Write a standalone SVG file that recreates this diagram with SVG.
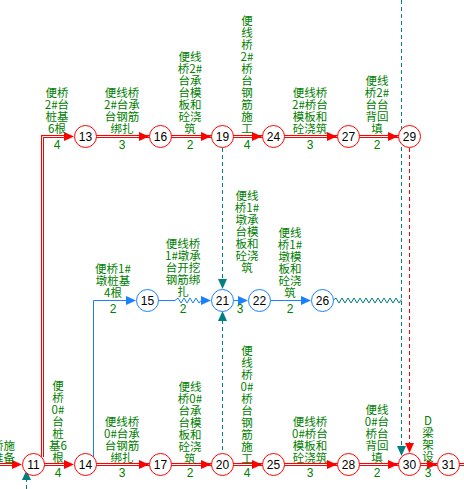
<svg xmlns="http://www.w3.org/2000/svg" xmlns:xlink="http://www.w3.org/1999/xlink" width="464" height="489" viewBox="0 0 464 489">
<style>
.dr{fill:none;stroke:#ff0000;stroke-width:3}
.dw{fill:none;stroke:#ffffff;stroke-width:1}
.bl{fill:none;stroke:#1a80ff;stroke-width:1}
.td{fill:none;stroke:#008080;stroke-width:1;stroke-dasharray:4 3}
.tz{fill:none;stroke:#008080;stroke-width:1}
.rd{fill:none;stroke:#ff0000;stroke-width:1;stroke-dasharray:4 3}
.nr circle{fill:#fff;stroke:#ff0000;stroke-width:1}
.nb circle{fill:#fff;stroke:#1a80ff;stroke-width:1}
.nt{font-family:"Liberation Sans",Arial,sans-serif;font-size:12px;fill:#000;text-anchor:middle}
.lb{font-family:"Noto Sans CJK SC",sans-serif;font-size:11.5px;fill:#008000;text-anchor:middle}
.du{font-family:"Liberation Sans",Arial,sans-serif;font-size:12px;fill:#008000;text-anchor:middle}
</style>
<defs>
<path id="ah" d="M0,0 L-10,-4.5 L-10,4.5 Z"/>
</defs>
<rect width="464" height="489" fill="#fff"/>
<g id="connectors">
<path class="dr" d="M0,464.5 H14 M44,464.5 H66 M96,464.5 H150 M171,464.5 H212 M233,464.5 H263 M284,464.5 H338 M359,464.5 H399 M420,464.5 H437 M459,464.5 H464"/>
<path class="dw" d="M0,464.5 H14 M44,464.5 H66 M96,464.5 H150 M171,464.5 H212 M233,464.5 H263 M284,464.5 H338 M359,464.5 H399 M420,464.5 H437 M459,464.5 H464"/>
<path class="dr" d="M42.5,457 V136.5 H66 M96,136.5 H150 M171,136.5 H212 M233,136.5 H263 M284,136.5 H338 M359,136.5 H399"/>
<path class="dw" d="M42.5,457 V136.5 H66 M96,136.5 H150 M171,136.5 H212 M233,136.5 H263 M284,136.5 H338 M359,136.5 H399"/>
<g fill="#ff0000">
<use xlink:href="#ah" transform="translate(22,464.5)"/>
<use xlink:href="#ah" transform="translate(74,464.5)"/>
<use xlink:href="#ah" transform="translate(149,464.5)"/>
<use xlink:href="#ah" transform="translate(211,464.5)"/>
<use xlink:href="#ah" transform="translate(262,464.5)"/>
<use xlink:href="#ah" transform="translate(337,464.5)"/>
<use xlink:href="#ah" transform="translate(398,464.5)"/>
<use xlink:href="#ah" transform="translate(437,464.5)"/>
<use xlink:href="#ah" transform="translate(74,136.5)"/>
<use xlink:href="#ah" transform="translate(149,136.5)"/>
<use xlink:href="#ah" transform="translate(211,136.5)"/>
<use xlink:href="#ah" transform="translate(262,136.5)"/>
<use xlink:href="#ah" transform="translate(337,136.5)"/>
<use xlink:href="#ah" transform="translate(398,136.5)"/>
<use xlink:href="#ah" transform="translate(409.5,453) rotate(90)"/>
</g>
<path class="bl" d="M93.5,457 V300.5 H128"/>
<path class="bl" d="M158,300.5 H175 L178,298 L181,303 L184,298 L187,303 L190,298 L193,303 L196,298 L199,303 L201,300.5 H203"/>
<path class="bl" d="M233,300.5 H240 M270,300.5 H303"/>
<g fill="#1a80ff">
<use xlink:href="#ah" transform="translate(136,300.5)"/>
<use xlink:href="#ah" transform="translate(211,300.5)"/>
<use xlink:href="#ah" transform="translate(248,300.5)"/>
<use xlink:href="#ah" transform="translate(311,300.5)"/>
</g>
<path class="tz" d="M333,300.5 L336,298 L339,303 L342,298 L345,303 L348,298 L351,303 L354,298 L357,303 L360,298 L363,303 L366,298 L369,303 L372,298 L375,303 L378,298 L381,303 L384,298 L387,303 L390,298 L393,303 L396,298 L399,303 L401.5,299.5"/>
<path class="td" d="M401.5,0 V447"/>
<path class="td" d="M222.5,148 V280 M222.5,320 V453"/>
<path class="td" d="M26.5,489 V479"/>
<path class="rd" d="M409.5,148 V444"/>
<g fill="#008080">
<use xlink:href="#ah" transform="translate(401.5,456) rotate(90)"/>
<use xlink:href="#ah" transform="translate(222.5,289) rotate(90)"/>
<use xlink:href="#ah" transform="translate(222.5,311) rotate(-90)"/>
<use xlink:href="#ah" transform="translate(26.5,470) rotate(-90)"/>
</g>
</g>
<g id="labels">
<text class="lb" style="text-anchor:end"><tspan x="15" y="449.5">便桥施</tspan><tspan x="15" y="461.5">工准备</tspan></text>
<text class="lb"><tspan x="57" y="96.5">便桥</tspan><tspan x="57" dy="12">2#台</tspan><tspan x="57" dy="12">桩基</tspan><tspan x="57" dy="12">6根</tspan></text>
<text class="lb"><tspan x="122" y="96.5">便线桥</tspan><tspan x="122" dy="12">2#台承</tspan><tspan x="122" dy="12">台钢筋</tspan><tspan x="122" dy="12">绑扎</tspan></text>
<text class="lb"><tspan x="190" y="60.5">便线</tspan><tspan x="190" dy="12">桥2#</tspan><tspan x="190" dy="12">台承</tspan><tspan x="190" dy="12">台模</tspan><tspan x="190" dy="12">板和</tspan><tspan x="190" dy="12">砼浇</tspan><tspan x="190" dy="12">筑</tspan></text>
<text class="lb"><tspan x="247" y="24.5">便</tspan><tspan x="247" dy="12">线</tspan><tspan x="247" dy="12">桥</tspan><tspan x="247" dy="12">2#</tspan><tspan x="247" dy="12">桥</tspan><tspan x="247" dy="12">台</tspan><tspan x="247" dy="12">钢</tspan><tspan x="247" dy="12">筋</tspan><tspan x="247" dy="12">施</tspan><tspan x="247" dy="12">工</tspan></text>
<text class="lb"><tspan x="310" y="96.5">便线桥</tspan><tspan x="310" dy="12">2#桥台</tspan><tspan x="310" dy="12">模板和</tspan><tspan x="310" dy="12">砼浇筑</tspan></text>
<text class="lb"><tspan x="377" y="84.5">便线</tspan><tspan x="377" dy="12">桥2#</tspan><tspan x="377" dy="12">台台</tspan><tspan x="377" dy="12">背回</tspan><tspan x="377" dy="12">填</tspan></text>
<text class="lb"><tspan x="113" y="272.5">便桥1#</tspan><tspan x="113" dy="12">墩桩基</tspan><tspan x="113" dy="12">4根</tspan></text>
<text class="lb"><tspan x="183" y="247.5">便线桥</tspan><tspan x="183" dy="12">1#墩承</tspan><tspan x="183" dy="12">台开挖</tspan><tspan x="183" dy="12">钢筋绑</tspan><tspan x="183" dy="12">扎</tspan></text>
<text class="lb"><tspan x="247" y="199.5">便线</tspan><tspan x="247" dy="12">桥1#</tspan><tspan x="247" dy="12">墩承</tspan><tspan x="247" dy="12">台模</tspan><tspan x="247" dy="12">板和</tspan><tspan x="247" dy="12">砼浇</tspan><tspan x="247" dy="12">筑</tspan></text>
<text class="lb"><tspan x="290" y="236.5">便线</tspan><tspan x="290" dy="12">桥1#</tspan><tspan x="290" dy="12">墩模</tspan><tspan x="290" dy="12">板和</tspan><tspan x="290" dy="12">砼浇</tspan><tspan x="290" dy="12">筑</tspan></text>
<text class="lb"><tspan x="58" y="389.5">便</tspan><tspan x="58" dy="12">桥</tspan><tspan x="58" dy="12">0#</tspan><tspan x="58" dy="12">台</tspan><tspan x="58" dy="12">桩</tspan><tspan x="58" dy="12">基6</tspan><tspan x="58" dy="12">根</tspan></text>
<text class="lb"><tspan x="122" y="425.5">便线桥</tspan><tspan x="122" dy="12">0#台承</tspan><tspan x="122" dy="12">台钢筋</tspan><tspan x="122" dy="12">绑扎</tspan></text>
<text class="lb"><tspan x="190" y="390.5">便线</tspan><tspan x="190" dy="12">桥0#</tspan><tspan x="190" dy="12">台承</tspan><tspan x="190" dy="12">台模</tspan><tspan x="190" dy="12">板和</tspan><tspan x="190" dy="12">砼浇</tspan><tspan x="190" dy="12">筑</tspan></text>
<text class="lb"><tspan x="247" y="354.5">便</tspan><tspan x="247" dy="12">线</tspan><tspan x="247" dy="12">桥</tspan><tspan x="247" dy="12">0#</tspan><tspan x="247" dy="12">桥</tspan><tspan x="247" dy="12">台</tspan><tspan x="247" dy="12">钢</tspan><tspan x="247" dy="12">筋</tspan><tspan x="247" dy="12">施</tspan><tspan x="247" dy="12">工</tspan></text>
<text class="lb"><tspan x="310" y="425.5">便线桥</tspan><tspan x="310" dy="12">0#桥台</tspan><tspan x="310" dy="12">模板和</tspan><tspan x="310" dy="12">砼浇筑</tspan></text>
<text class="lb"><tspan x="377" y="413.5">便线</tspan><tspan x="377" dy="12">0#台</tspan><tspan x="377" dy="12">桥台</tspan><tspan x="377" dy="12">背回</tspan><tspan x="377" dy="12">填</tspan></text>
<text class="lb"><tspan x="428" y="424.5">D</tspan><tspan x="428" dy="12">梁</tspan><tspan x="428" dy="12">架</tspan><tspan x="428" dy="12">设</tspan></text>
<text class="du" x="57" y="149">4</text>
<text class="du" x="122" y="149">3</text>
<text class="du" x="190" y="149">2</text>
<text class="du" x="247" y="149">4</text>
<text class="du" x="310" y="149">3</text>
<text class="du" x="377" y="149">2</text>
<text class="du" x="113" y="313">2</text>
<text class="du" x="183" y="313">2</text>
<text class="du" x="240" y="313">3</text>
<text class="du" x="290" y="313">2</text>
<text class="du" x="58" y="477">4</text>
<text class="du" x="122" y="477">3</text>
<text class="du" x="190" y="477">2</text>
<text class="du" x="247" y="477">4</text>
<text class="du" x="310" y="477">3</text>
<text class="du" x="377" y="477">2</text>
<text class="du" x="428" y="477">3</text>
</g>
<g id="n11" class="nr"><circle cx="33.5" cy="464.5" r="11"/><text class="nt" x="33.5" y="469">11</text></g>
<g id="n13" class="nr"><circle cx="85.5" cy="136.5" r="11"/><text class="nt" x="85.5" y="141">13</text></g>
<g id="n14" class="nr"><circle cx="85.5" cy="464.5" r="11"/><text class="nt" x="85.5" y="469">14</text></g>
<g id="n16" class="nr"><circle cx="160.5" cy="136.5" r="11"/><text class="nt" x="160.5" y="141">16</text></g>
<g id="n17" class="nr"><circle cx="160.5" cy="464.5" r="11"/><text class="nt" x="160.5" y="469">17</text></g>
<g id="n19" class="nr"><circle cx="222.5" cy="136.5" r="11"/><text class="nt" x="222.5" y="141">19</text></g>
<g id="n20" class="nr"><circle cx="222.5" cy="464.5" r="11"/><text class="nt" x="222.5" y="469">20</text></g>
<g id="n24" class="nr"><circle cx="273.5" cy="136.5" r="11"/><text class="nt" x="273.5" y="141">24</text></g>
<g id="n25" class="nr"><circle cx="273.5" cy="464.5" r="11"/><text class="nt" x="273.5" y="469">25</text></g>
<g id="n27" class="nr"><circle cx="348.5" cy="136.5" r="11"/><text class="nt" x="348.5" y="141">27</text></g>
<g id="n28" class="nr"><circle cx="348.5" cy="464.5" r="11"/><text class="nt" x="348.5" y="469">28</text></g>
<g id="n29" class="nr"><circle cx="409.5" cy="136.5" r="11"/><text class="nt" x="409.5" y="141">29</text></g>
<g id="n30" class="nr"><circle cx="409.5" cy="464.5" r="11"/><text class="nt" x="409.5" y="469">30</text></g>
<g id="n31" class="nr"><circle cx="448.5" cy="464.5" r="11"/><text class="nt" x="448.5" y="469">31</text></g>
<g id="n15" class="nb"><circle cx="147.5" cy="300.5" r="11"/><text class="nt" x="147.5" y="305">15</text></g>
<g id="n21" class="nb"><circle cx="222.5" cy="300.5" r="11"/><text class="nt" x="222.5" y="305">21</text></g>
<g id="n22" class="nb"><circle cx="259.5" cy="300.5" r="11"/><text class="nt" x="259.5" y="305">22</text></g>
<g id="n26" class="nb"><circle cx="322.5" cy="300.5" r="11"/><text class="nt" x="322.5" y="305">26</text></g>
</svg>
